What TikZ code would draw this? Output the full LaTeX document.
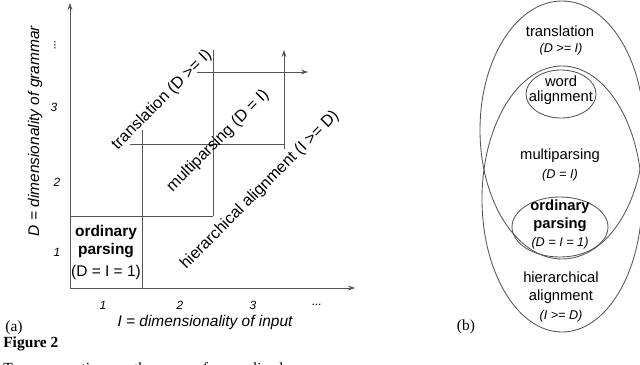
\documentclass[tikz,border=0pt]{standalone}
\usepackage{fontspec}
\setmainfont{Liberation Serif}
\newfontfamily\hv{Liberation Sans}
\usetikzlibrary{arrows.meta}
\definecolor{LineGray}{HTML}{555555}

\begin{document}
\begin{tikzpicture}[x=0.025cm, y=-0.025cm,
    grid/.style={LineGray, line width=0.6pt},
    axis/.style={grid, -{Stealth[length=5pt, width=3.5pt]}},
    lbl/.style={font=\hv\fontsize{11}{13}\selectfont, inner sep=0pt},
    tick/.style={font=\hv\itshape\fontsize{8.5}{10}\selectfont, inner sep=0pt},
    diag/.style={font=\hv\fontsize{11.5}{13}\selectfont, rotate=45, inner sep=0pt},
    txt/.style={font=\hv\fontsize{10.5}{12.5}\selectfont, inner sep=0pt},
    sub/.style={font=\hv\itshape\fontsize{9}{11}\selectfont, inner sep=0pt}]
    \clip (0,0) rectangle (640,364);

    % Axes
    \draw[axis] (70,288) -- (70,3);
    \draw[axis] (70,288) -- (355,288);
    \node[lbl, rotate=90] (ylabel) at (35,131) {\itshape D = dimensionality of grammar};
    \node[lbl] (xlabel) at (205,322) {\itshape I = dimensionality of input};

    % Ticks
    \node[tick] (y1) at (57,252) {1};
    \node[tick] (y2) at (57,182) {2};
    \node[tick] (y3) at (54,107) {3};
    \node[tick, rotate=90] (ydots) at (55,45) {...};
    \node[tick] (x1) at (103,305) {1};
    \node[tick] (x2) at (180,305) {2};
    \node[tick] (x3) at (253,305) {3};
    \node[tick] (xdots) at (317,305) {...};

    % Grid corners
    \draw[grid] (142,288) -- (142,130);
    \draw[grid] (70,216) -- (213,216);
    \draw[grid] (213,216) -- (213,50);
    \draw[grid] (130,144) -- (284,144);
    \draw[axis] (284,149) -- (284,50);
    \draw[axis] (197,72) -- (308,72);

    % Regions
    \node[lbl, font=\hv\bfseries\fontsize{11}{13}\selectfont] (ord1) at (106,232) {ordinary};
    \node[lbl, font=\hv\bfseries\fontsize{11}{13}\selectfont] (ord2) at (106,251) {parsing};
    \node[lbl] (ord3) at (106,272) {(D = I = 1)};
    \node[diag] (trans) at (162,100) {translation (D >= I)};
    \node[diag] (multi) at (218,141) {multiparsing (D = I)};
    \node[diag] (hier) at (260,190) {hierarchical alignment (I >= D)};

    % Captions
    \node[font=\fontsize{11}{13}\selectfont, inner sep=0pt] (capa) at (14,328) {(a)};
    \node[font=\bfseries\fontsize{11}{13}\selectfont, inner sep=0pt, anchor=west] (fig) at (3,344) {Figure 2};
    \node[font=\fontsize{11}{13}\selectfont, inner sep=0pt, anchor=west] (cap) at (3,370) {Two perspectives on the space of generalized parsers};

    % Sets
    \draw[grid] (562,130) ellipse [x radius=82, y radius=129];
    \draw[grid] (562,199) ellipse [x radius=80, y radius=133];
    \draw[grid] (561,94) ellipse [x radius=35, y radius=24];
    \draw[grid] (560,227) ellipse [x radius=48, y radius=30];

    \node[txt] (ttrans) at (560,31) {translation};
    \node[sub] (strans) at (561,49) {(D >= I)};
    \node[txt] (tword1) at (561,81) {word};
    \node[txt] (tword2) at (561,98) {alignment};
    \node[txt] (tmulti) at (560,156) {multiparsing};
    \node[sub] (smulti) at (560,175) {(D = I)};
    \node[txt, font=\hv\bfseries\fontsize{10.5}{12.5}\selectfont] (tord1) at (560,207) {ordinary};
    \node[txt, font=\hv\bfseries\fontsize{10.5}{12.5}\selectfont] (tord2) at (560,225) {parsing};
    \node[sub] (sord) at (560,243) {(D = I = 1)};
    \node[txt] (thier1) at (561,277) {hierarchical};
    \node[txt] (thier2) at (561,297) {alignment};
    \node[sub] (shier) at (561,316) {(I >= D)};
    \node[font=\fontsize{11}{13}\selectfont, inner sep=0pt] (capb) at (466,327) {(b)};
\end{tikzpicture}
\end{document}
